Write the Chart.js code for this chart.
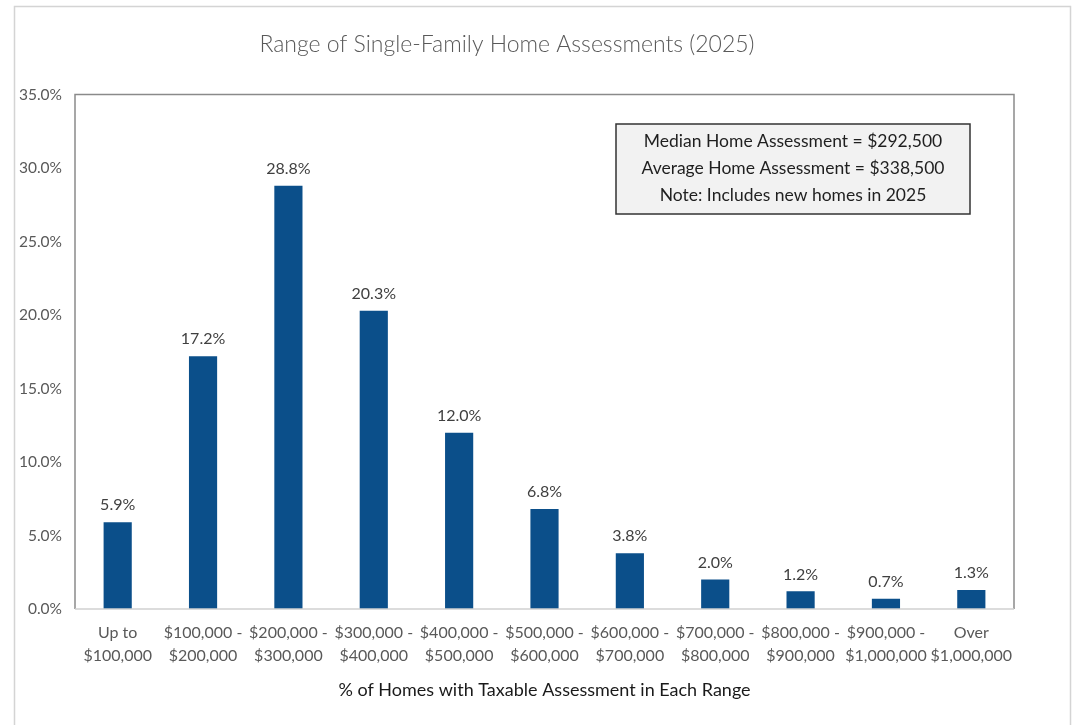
<!DOCTYPE html>
<html>
<head>
<meta charset="utf-8">
<script src="https://cdn.jsdelivr.net/npm/chart.js@4"></script>
<style>
html,body{margin:0;padding:0;background:#fff;}
canvas{display:block;}
</style>
</head>
<body>
<canvas id="c" width="1088" height="725"></canvas>
<script>
const categories = [
  ["Up to", "$100,000"],
  ["$100,000 -", "$200,000"],
  ["$200,000 -", "$300,000"],
  ["$300,000 -", "$400,000"],
  ["$400,000 -", "$500,000"],
  ["$500,000 -", "$600,000"],
  ["$600,000 -", "$700,000"],
  ["$700,000 -", "$800,000"],
  ["$800,000 -", "$900,000"],
  ["$900,000 -", "$1,000,000"],
  ["Over", "$1,000,000"]
];
const shares = [5.9, 17.2, 28.8, 20.3, 12.0, 6.8, 3.8, 2.0, 1.2, 0.7, 1.3];
const titleText = "Range of Single-Family Home Assessments (2025)";
const xTitle = "% of Homes with Taxable Assessment in Each Range";
const noteLines = [
  "Median Home Assessment = $292,500",
  "Average Home Assessment = $338,500",
  "Note: Includes new homes in 2025"
];

const FONT = "Lato, 'Open Sans', sans-serif";

const framePlugin = {
  id: 'frame',
  beforeDraw(chart) {
    const ctx = chart.ctx;
    ctx.save();
    ctx.strokeStyle = '#d4d4d4';
    ctx.lineWidth = 1.5;
    ctx.strokeRect(14.5, 6.5, 1056, 730);
    ctx.restore();
  },
  afterDraw(chart) {
    const ctx = chart.ctx;
    const a = chart.chartArea;
    ctx.save();
    ctx.strokeStyle = '#8a8a8a';
    ctx.lineWidth = 1.5;
    ctx.beginPath();
    ctx.moveTo(a.left, a.bottom);
    ctx.lineTo(a.left, a.top);
    ctx.lineTo(a.right, a.top);
    ctx.lineTo(a.right, a.bottom);
    ctx.stroke();
    ctx.strokeStyle = '#d0d0d0';
    ctx.beginPath();
    ctx.moveTo(a.left, a.bottom);
    ctx.lineTo(a.right, a.bottom);
    ctx.stroke();
    const meta = chart.getDatasetMeta(0);
    ctx.fillStyle = '#404040';
    ctx.font = "16px " + FONT;
    ctx.textAlign = 'center';
    ctx.textBaseline = 'bottom';
    meta.data.forEach((bar, i) => {
      ctx.fillText(shares[i].toFixed(1) + '%', bar.x, bar.y - 9);
    });
    const bx = 616, by = 124, bw = 354, bh = 90;
    ctx.fillStyle = '#f2f2f2';
    ctx.fillRect(bx, by, bw, bh);
    ctx.strokeStyle = '#333333';
    ctx.lineWidth = 1.5;
    ctx.strokeRect(bx, by, bw, bh);
    ctx.fillStyle = '#1f1f1f';
    ctx.font = "17.5px " + FONT;
    ctx.textBaseline = 'middle';
    noteLines.forEach((t, i) => {
      ctx.fillText(t, bx + bw / 2, by + 17 + i * 27);
    });
    ctx.restore();
  }
};

new Chart(document.getElementById('c'), {
  type: 'bar',
  data: {
    labels: categories,
    datasets: [{
      data: shares,
      backgroundColor: '#0b4f8a',
      barPercentage: 0.66,
      categoryPercentage: 0.5
    }]
  },
  options: {
    responsive: false,
    animation: false,
    devicePixelRatio: 1,
    layout: { padding: { left: 0, right: 74, top: 0, bottom: 18 } },
    plugins: {
      legend: { display: false },
      tooltip: { enabled: false },
      title: {
        display: true,
        text: titleText,
        color: '#595959',
        font: { family: FONT, size: 23, weight: '300' },
        padding: { top: 31, bottom: 36 }
      }
    },
    scales: {
      x: {
        grid: { display: false, drawTicks: false },
        border: { display: false },
        ticks: {
          color: '#595959',
          font: { family: FONT, size: 16, lineHeight: 1.45 },
          padding: 12,
          maxRotation: 0,
          autoSkip: false
        },
        title: {
          display: true,
          text: xTitle,
          color: '#1a1a1a',
          font: { family: FONT, size: 18 },
          padding: { top: 0, bottom: 6 }
        },
        afterFit(s) { s.height = 98; }
      },
      y: {
        min: 0,
        max: 35,
        grid: { display: false, drawTicks: false },
        border: { display: false },
        ticks: {
          stepSize: 5,
          color: '#595959',
          font: { family: FONT, size: 15.5 },
          padding: 13,
          callback: v => v.toFixed(1) + '%'
        },
        afterFit(s) { s.width = 75; }
      }
    }
  },
  plugins: [framePlugin]
});
</script>
</body>
</html>
